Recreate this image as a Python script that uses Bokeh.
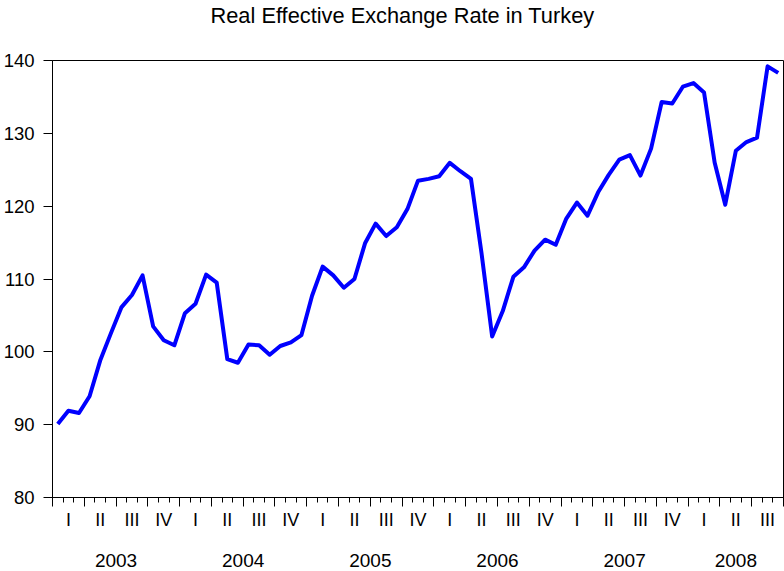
from bokeh.plotting import figure
from bokeh.models import Range1d, FixedTicker, LinearAxis, ColumnDataSource, Title
from bokeh.embed import file_html
from bokeh.resources import INLINE

# ---- data ----
title_text = "Real Effective Exchange Rate in Turkey"
years = [2003, 2004, 2005, 2006, 2007, 2008]
quarter_names = ["I", "II", "III", "IV"]
y_ticks = [80, 90, 100, 110, 120, 130, 140]
# monthly values, Jan 2003 .. Sep 2008
reer = [90.1, 91.9, 91.6, 93.9, 98.8, 102.5, 106.1, 107.8, 110.5, 103.5, 101.6, 100.9,
        105.3, 106.6, 110.6, 109.5, 99.0, 98.5, 101.0, 100.9, 99.6, 100.8, 101.3, 102.3,
        107.7, 111.7, 110.5, 108.8, 110.0, 114.9, 117.6, 115.9, 117.1, 119.6, 123.5, 123.75,
        124.1, 125.95, 124.8, 123.75, 113.5, 102.1, 105.6, 110.3, 111.6, 113.9, 115.4, 114.7,
        118.3, 120.5, 118.7, 121.9, 124.3, 126.4, 127.0, 124.2, 127.9, 134.3, 134.1, 136.4,
        136.9, 135.6, 126.0, 120.2, 127.6, 128.8, 129.4, 139.2, 138.3]

n = len(reer)
month_x = [i + 0.5 for i in range(n)]
month_bounds = list(range(n + 1))
quarter_bounds = list(range(0, n + 1, 3))
n_q = n // 3
quarter_mid = [3 * k + 1.5 for k in range(n_q)]
quarter_labels = {quarter_mid[k]: quarter_names[k % 4] for k in range(n_q)}
year_mid = []
for j, yr in enumerate(years):
    a = 12 * j
    b = min(12 * j + 12, n)
    year_mid.append((a + b) / 2)
year_labels = {year_mid[j]: str(years[j]) for j in range(len(years))}

FONT = "Liberation Sans"

p = figure(width=784, height=571, output_backend="svg", toolbar_location=None,
           title=None,
           x_range=Range1d(0, n), y_range=Range1d(80, 140),
           x_axis_type=None, y_axis_type=None,
           min_border_left=52, min_border_right=1, min_border_top=60, min_border_bottom=74)
p.xgrid.visible = False
p.ygrid.visible = False
p.outline_line_color = "black"
p.outline_line_width = 1
p.background_fill_color = "white"
p.border_fill_color = "white"

# spacer between frame and title (closest to the frame)
spacer = Title(text=" ", text_font_size="1px", standoff=30)
p.add_layout(spacer, "above")
main_title = Title(text=title_text, align="left", offset=158, standoff=0,
                   text_font=FONT, text_font_size="21.8px", text_font_style="normal",
                   text_color="black")
p.add_layout(main_title, "above")

src = ColumnDataSource(dict(x=month_x, y=reer))
p.line("x", "y", source=src, line_color="#0000FF", line_width=4, line_join="round")

yax = LinearAxis(ticker=FixedTicker(ticks=y_ticks),
                 major_tick_out=9, major_tick_in=0, minor_tick_out=0, minor_tick_in=0,
                 major_label_standoff=9, major_label_text_font=FONT,
                 major_label_text_font_size="18.5px", major_label_text_color="black",
                 axis_line_color="black", major_tick_line_color="black")
p.add_layout(yax, "left")

ax1 = LinearAxis(ticker=FixedTicker(ticks=quarter_bounds, minor_ticks=month_bounds),
                 major_tick_out=9, major_tick_in=0, minor_tick_out=5, minor_tick_in=0,
                 major_label_overrides={t: "" for t in quarter_bounds},
                 major_label_text_font_size="1px", major_label_standoff=0,
                 axis_line_color="black", major_tick_line_color="black",
                 minor_tick_line_color="black")
p.add_layout(ax1, "below")

ax2 = LinearAxis(ticker=FixedTicker(ticks=quarter_mid, minor_ticks=[]),
                 major_label_overrides=quarter_labels,
                 major_tick_out=0, major_tick_in=0, minor_tick_out=0, minor_tick_in=0,
                 major_label_standoff=3, major_label_text_font=FONT,
                 major_label_text_font_size="18px", major_label_text_color="black",
                 axis_line_color=None, major_tick_line_color=None, minor_tick_line_color=None)
p.add_layout(ax2, "below")

ax3 = LinearAxis(ticker=FixedTicker(ticks=year_mid, minor_ticks=[]),
                 major_label_overrides=year_labels,
                 major_tick_out=0, major_tick_in=0, minor_tick_out=0, minor_tick_in=0,
                 major_label_standoff=21, major_label_text_font=FONT,
                 major_label_text_font_size="19px", major_label_text_color="black",
                 axis_line_color=None, major_tick_line_color=None, minor_tick_line_color=None)
p.add_layout(ax3, "below")

open("out.html", "w").write(file_html(p, INLINE))
